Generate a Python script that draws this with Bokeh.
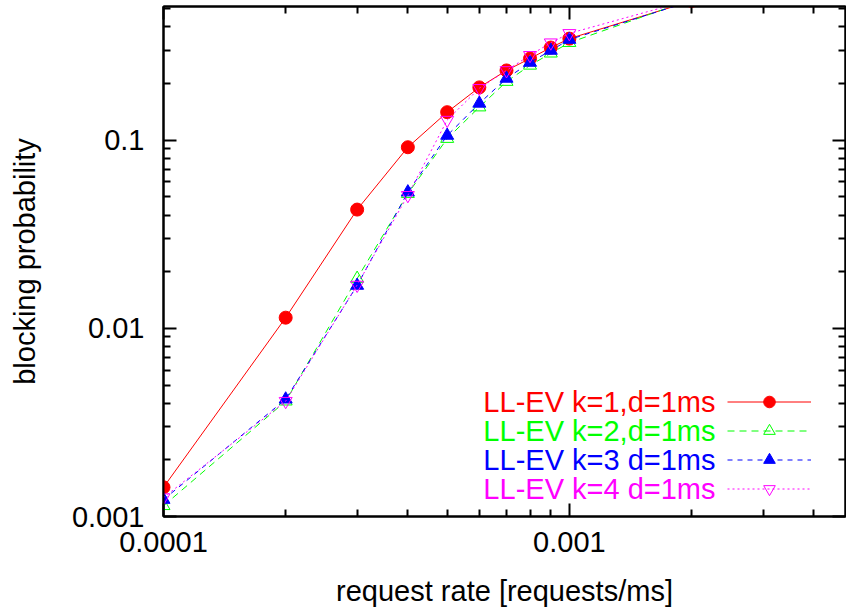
from bokeh.plotting import figure
from bokeh.models import (LogAxis, FixedTicker, CustomJSTickFormatter, Legend,
                          LegendItem, Label, Range1d)
from bokeh.core.properties import value
from bokeh.embed import file_html
from bokeh.resources import INLINE

# ---- data ----
rate = [1e-4, 2e-4, 3e-4, 4e-4, 5e-4, 6e-4, 7e-4, 8e-4, 9e-4, 1e-3, 2e-3]
k1 = [0.00143, 0.0114, 0.0428, 0.0918, 0.141, 0.191, 0.235, 0.272, 0.311, 0.347, 0.55]
k2 = [0.00114, 0.0041, 0.0184, 0.052, 0.102, 0.150, 0.205, 0.250, 0.290, 0.330, 0.56]
k3 = [0.00123, 0.0042, 0.0169, 0.053, 0.106, 0.157, 0.213, 0.259, 0.300, 0.343, 0.55]
k4 = [0.00126, 0.0041, 0.0170, 0.051, 0.128, 0.189, 0.235, 0.283, 0.330, 0.370, 0.56]
labels = ["LL-EV k=1,d=1ms", "LL-EV k=2,d=1ms", "LL-EV k=3 d=1ms", "LL-EV k=4 d=1ms"]
x_title = "request rate [requests/ms]"
y_title = "blocking probability"

x_major = [1e-4, 1e-3]
x_minor = [2e-4, 3e-4, 4e-4, 5e-4, 6e-4, 7e-4, 8e-4, 9e-4, 2e-3, 3e-3, 4e-3]
y_major = [1e-3, 1e-2, 1e-1]
y_minor = [2e-3, 3e-3, 4e-3, 5e-3, 6e-3, 7e-3, 8e-3, 9e-3,
           2e-2, 3e-2, 4e-2, 5e-2, 6e-2, 7e-2, 8e-2, 9e-2, 0.2, 0.3, 0.4, 0.5]

FONT = "Liberation Sans"
FS = "29px"

p = figure(width=846, height=609, x_axis_type="log", y_axis_type="log",
           x_range=Range1d(1e-4, 0.00479), y_range=Range1d(1e-3, 0.514),
           output_backend="svg", toolbar_location=None,
           min_border_left=163, min_border_right=1, min_border_top=6,
           min_border_bottom=92)
p.grid.visible = False
p.outline_line_color = "black"
p.outline_line_width = 2

fmt = CustomJSTickFormatter(code="return tick.toString();")
blank = CustomJSTickFormatter(code="return '';")


def style_axis(ax, show_labels):
    ax.axis_line_width = 2
    ax.axis_line_color = "black"
    ax.major_tick_in = 13
    ax.major_tick_out = 0
    ax.minor_tick_in = 7
    ax.minor_tick_out = 0
    ax.major_tick_line_width = 2
    ax.minor_tick_line_width = 2
    ax.major_tick_line_color = "black"
    ax.minor_tick_line_color = "black"
    if show_labels:
        ax.major_label_text_font = FONT
        ax.major_label_text_font_size = FS
        ax.major_label_text_color = "black"
        ax.axis_label_text_font = FONT
        ax.axis_label_text_font_size = FS
        ax.axis_label_text_font_style = "normal"
        ax.axis_label_text_color = "black"
    else:
        ax.major_label_text_font_size = "0px"
        ax.major_label_standoff = 0


xt = FixedTicker(ticks=x_major, minor_ticks=x_minor)
yt = FixedTicker(ticks=y_major, minor_ticks=y_minor)

p.xaxis.ticker = xt
p.yaxis.ticker = yt
p.xaxis.formatter = fmt
p.yaxis.formatter = fmt
p.xaxis.axis_label = x_title
p.yaxis.axis_label = y_title
style_axis(p.xaxis[0], True)
style_axis(p.yaxis[0], True)
p.yaxis.major_label_standoff = 19
p.yaxis.axis_label_standoff = 28
p.xaxis.major_label_standoff = 15
p.xaxis.axis_label_standoff = 20

ra = LogAxis(ticker=FixedTicker(ticks=y_major, minor_ticks=y_minor), formatter=blank)
style_axis(ra, False)
p.add_layout(ra, "right")
ta = LogAxis(ticker=FixedTicker(ticks=x_major, minor_ticks=x_minor), formatter=blank)
style_axis(ta, False)
p.add_layout(ta, "above")

# ---- series ----
l1 = p.line(rate, k1, line_color="#ff0000", line_width=1)
s1 = p.scatter(rate, k1, marker="circle", size=13, fill_color="#ff0000",
               line_color="#ff0000")
l2 = p.line(rate, k2, line_color="#00ff00", line_width=1, line_dash="7 5")
s2 = p.scatter(rate, k2, marker="triangle", size=13, fill_color=None,
               line_color="#00ff00", line_width=1)
l3 = p.line(rate, k3, line_color="#0000ff", line_width=1, line_dash="5 5")
s3 = p.scatter(rate, k3, marker="triangle", size=13, fill_color="#0000ff",
               line_color="#0000ff")
l4 = p.line(rate, k4, line_color="#ff00ff", line_width=1, line_dash="2 3")
s4 = p.scatter(rate, k4, marker="inverted_triangle", size=13, fill_color=None,
               line_color="#ff00ff", line_width=1)

colors = ["#ff0000", "#00ff00", "#0000ff", "#ff00ff"]
pairs = [(l1, s1), (l2, s2), (l3, s3), (l4, s4)]

items = [LegendItem(label=value(" "), renderers=[l, s]) for (l, s) in pairs]
leg = Legend(items=items, location=(564, 13), glyph_width=84, glyph_height=29,
             label_width=0, label_height=0, label_standoff=0,
             label_text_font_size="1px", spacing=0, padding=0, margin=0,
             border_line_color=None, background_fill_alpha=0)
p.add_layout(leg, "center")

row_y = [115, 86, 57, 28]
for lab, c, yy in zip(labels, colors, row_y):
    p.add_layout(Label(x=552, y=yy, x_units="screen", y_units="screen",
                       text=lab, text_align="right", text_baseline="middle",
                       text_color=c, text_font=FONT, text_font_size=FS))

open("out.html", "w").write(file_html(p, INLINE))
